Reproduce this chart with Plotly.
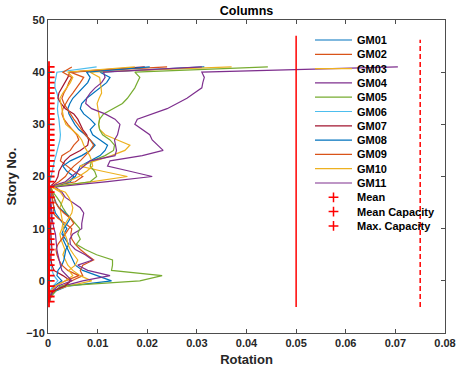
import plotly.graph_objects as go

# Story levels (floor numbers) shared by all records
stories = list(range(-4, 42))

# Column rotation per story for each ground-motion record
gm01 = [0.0003, 0.0006, 0.0015, 0.004, 0.0128, 0.010, 0.007, 0.0055, 0.005, 0.0045,
        0.004, 0.0035, 0.003, 0.0032, 0.0038, 0.003, 0.0022, 0.0015, 0.0012, 0.001,
        0.0008, 0.0006, 0.0005, 0.004, 0.0055, 0.006, 0.0065, 0.0085, 0.0105, 0.0115,
        0.012, 0.0105, 0.009, 0.0085, 0.0095, 0.0085, 0.0072, 0.0065, 0.0068, 0.0078,
        0.0092, 0.0105, 0.0118, 0.0125, 0.0105, 0.0315]
gm02 = [0.0002, 0.0005, 0.0012, 0.003, 0.0048, 0.007, 0.0065, 0.007, 0.0092, 0.0078,
        0.0065, 0.0055, 0.0048, 0.0046, 0.0048, 0.0035, 0.002, 0.001, 0.0012, 0.001,
        0.0008, 0.0006, 0.0004, 0.0055, 0.007, 0.0052, 0.0038, 0.0025, 0.0028, 0.0045,
        0.0052, 0.0062, 0.0058, 0.0048, 0.004, 0.0032, 0.0028, 0.003, 0.0036, 0.0042,
        0.005, 0.0058, 0.0065, 0.0072, 0.0045, 0.024]
gm03 = [0.0002, 0.0004, 0.001, 0.004, 0.0088, 0.0065, 0.005, 0.004, 0.0035, 0.003,
        0.0034, 0.003, 0.0026, 0.0024, 0.0028, 0.003, 0.0028, 0.0025, 0.0024, 0.0028,
        0.0032, 0.0025, 0.0008, 0.009, 0.016, 0.011, 0.0064, 0.0095, 0.0128, 0.0155,
        0.0165, 0.014, 0.0115, 0.0104, 0.0102, 0.0104, 0.0102, 0.010, 0.0099, 0.0103,
        0.0108, 0.0107, 0.0105, 0.0104, 0.0085, 0.037]
gm04 = [0.0003, 0.0005, 0.001, 0.003, 0.007, 0.0125, 0.008, 0.006, 0.009, 0.0075,
        0.0055, 0.0045, 0.0044, 0.005, 0.0068, 0.0068, 0.007, 0.0072, 0.0065, 0.005,
        0.0035, 0.0028, 0.0015, 0.012, 0.021, 0.0165, 0.012, 0.0125, 0.019, 0.0232,
        0.022, 0.021, 0.0205, 0.019, 0.0175, 0.018, 0.021, 0.024, 0.026, 0.028,
        0.0295, 0.031, 0.0312, 0.0315, 0.031, 0.0705]
gm05 = [0.0003, 0.0006, 0.0015, 0.0024, 0.0185, 0.023, 0.0128, 0.013, 0.013, 0.0098,
        0.0075, 0.0057, 0.0065, 0.006, 0.0064, 0.0055, 0.0045, 0.0037, 0.003, 0.0025,
        0.0018, 0.001, 0.0006, 0.0085, 0.0098, 0.0094, 0.0085, 0.0088, 0.0115, 0.0132,
        0.0134, 0.0125, 0.011, 0.0104, 0.0102, 0.0104, 0.0112, 0.013, 0.015, 0.016,
        0.0168, 0.0175, 0.018, 0.0185, 0.0175, 0.0443]
gm06 = [0.0001, 0.0002, 0.0004, 0.001, 0.002, 0.0012, 0.0008, 0.0006, 0.0005, 0.0005,
        0.0004, 0.0004, 0.0005, 0.0006, 0.0005, 0.0004, 0.0004, 0.0003, 0.0003, 0.0003,
        0.0003, 0.0003, 0.0002, 0.0004, 0.0006, 0.0008, 0.001, 0.0013, 0.0016, 0.0019,
        0.0022, 0.0024, 0.0025, 0.0024, 0.0024, 0.0022, 0.002, 0.0019, 0.002, 0.0021,
        0.0018, 0.0014, 0.0014, 0.0016, 0.0018, 0.0098]
gm07 = [0.0002, 0.0004, 0.001, 0.0035, 0.0045, 0.003, 0.0012, 0.0008, 0.0006, 0.0006,
        0.0008, 0.0007, 0.0006, 0.0005, 0.0005, 0.0006, 0.0007, 0.0006, 0.0005, 0.0004,
        0.0004, 0.0003, 0.0003, 0.0015, 0.002, 0.0022, 0.0028, 0.0034, 0.0045, 0.0065,
        0.008, 0.0082, 0.0078, 0.007, 0.0065, 0.006, 0.0052, 0.0035, 0.0026, 0.002,
        0.0022, 0.0028, 0.0035, 0.004, 0.0044, 0.0195]
gm08 = [0.0001, 0.0003, 0.0008, 0.0012, 0.0028, 0.0018, 0.002, 0.0028, 0.0032, 0.0034,
        0.0036, 0.0042, 0.0035, 0.0028, 0.0032, 0.0038, 0.0045, 0.0035, 0.0022, 0.0016,
        0.0012, 0.0008, 0.0004, 0.0045, 0.0052, 0.0038, 0.003, 0.0045, 0.0068, 0.0085,
        0.0095, 0.0085, 0.0075, 0.0062, 0.0054, 0.0048, 0.0042, 0.004, 0.0044, 0.005,
        0.006, 0.0072, 0.008, 0.0085, 0.0078, 0.0205]
gm09 = [0.0001, 0.0003, 0.0006, 0.0015, 0.0035, 0.0062, 0.004, 0.0028, 0.0022, 0.0018,
        0.0016, 0.002, 0.0028, 0.0035, 0.0042, 0.0052, 0.0045, 0.0032, 0.0022, 0.0015,
        0.0012, 0.0008, 0.0005, 0.0022, 0.0035, 0.0042, 0.0052, 0.0065, 0.0075, 0.0085,
        0.0092, 0.0085, 0.0075, 0.0068, 0.006, 0.0052, 0.0045, 0.0038, 0.0032, 0.0028,
        0.0032, 0.0038, 0.0042, 0.0048, 0.003, 0.0048]
gm10 = [0.0001, 0.0003, 0.0006, 0.0015, 0.0035, 0.005, 0.0042, 0.0055, 0.006, 0.0052,
        0.0045, 0.004, 0.0038, 0.0034, 0.003, 0.0035, 0.0042, 0.0048, 0.005, 0.0047,
        0.0042, 0.0035, 0.0006, 0.004, 0.0062, 0.0078, 0.009, 0.0088, 0.0084, 0.0078,
        0.0072, 0.0068, 0.006, 0.0048, 0.0036, 0.0032, 0.003, 0.0028, 0.0025, 0.0024,
        0.003, 0.0038, 0.0045, 0.005, 0.004, 0.0175]
gm11 = [0.0002, 0.0004, 0.0008, 0.002, 0.0048, 0.0038, 0.0028, 0.0025, 0.0022, 0.002,
        0.0018, 0.0017, 0.0016, 0.0015, 0.0012, 0.001, 0.0008, 0.0008, 0.0007, 0.0006,
        0.0005, 0.0004, 0.0003, 0.0035, 0.0048, 0.006, 0.0072, 0.0085, 0.0135, 0.0138,
        0.0136, 0.0134, 0.014, 0.0143, 0.0145, 0.0135, 0.0115, 0.0088, 0.0076, 0.0078,
        0.0085, 0.0095, 0.0108, 0.0115, 0.0112, 0.031]

# Mean rotation per story
mean_rot = [0.0002] * 46

# Capacity limits and the story span they are drawn over
cap_mean = 0.05
cap_mean_span = [-5, 47]
cap_max = 0.075
cap_max_span = [-5, 46.2]

names = ["GM01", "GM02", "GM03", "GM04", "GM05", "GM06", "GM07", "GM08", "GM09", "GM10", "GM11"]
records = [gm01, gm02, gm03, gm04, gm05, gm06, gm07, gm08, gm09, gm10, gm11]
colors = ["#0072BD", "#D95319", "#EDB120", "#7E2F8E", "#77AC30", "#4DBEEE", "#A2142F",
          "#0072BD", "#D95319", "#EDB120", "#7E2F8E"]

FONT = "Liberation Sans, Arial, sans-serif"
AXIS_GREY = "#4d4d4d"
TEXT = "#262626"

# plot-area geometry in pixels
W_PX, H_PX = 457, 376
L, R, T, B = 48, 445, 20, 333

fig = go.Figure()

for name, vals, col in zip(names, records, colors):
    fig.add_trace(go.Scatter(x=vals, y=stories, mode="lines", name=name,
                             line=dict(color=col, width=1.2), showlegend=False))

fig.add_trace(go.Scatter(x=mean_rot, y=stories, mode="markers", name="Mean",
                         marker=dict(symbol="cross-thin", size=8, color="red",
                                     line=dict(color="red", width=1.8)),
                         showlegend=False))
fig.add_trace(go.Scatter(x=[cap_mean, cap_mean], y=cap_mean_span, mode="lines",
                         name="Mean Capacity", line=dict(color="red", width=1.5),
                         showlegend=False))
fig.add_trace(go.Scatter(x=[cap_max, cap_max], y=cap_max_span, mode="lines",
                         name="Max. Capacity",
                         line=dict(color="red", width=1.5, dash="5px,3px"),
                         showlegend=False))

# ---- hand-built legend (compact row spacing) on an overlay [0,1] frame ----
def ux(px):
    return (px - L) / (R - L)

def vy(py):
    return (B - py) / (B - T)

row0, row_step = 40, 14.3
sample_x0, sample_x1, text_x = 315, 352, 355
legend_labels = names + ["Mean", "Mean Capacity", "Max. Capacity"]

for i, (name, col) in enumerate(zip(names, colors)):
    yy = vy(row0 + i * row_step)
    fig.add_trace(go.Scatter(x=[ux(sample_x0), ux(sample_x1)], y=[yy, yy], mode="lines",
                             line=dict(color=col, width=1.2), xaxis="x2", yaxis="y2",
                             showlegend=False, hoverinfo="skip"))

for j in range(3):
    yy = vy(row0 + (11 + j) * row_step)
    fig.add_trace(go.Scatter(x=[ux((sample_x0 + sample_x1) / 2)], y=[yy], mode="markers",
                             marker=dict(symbol="cross-thin", size=7, color="red",
                                         line=dict(color="red", width=1.5)),
                             xaxis="x2", yaxis="y2", showlegend=False, hoverinfo="skip"))

for i, lab in enumerate(legend_labels):
    fig.add_annotation(x=ux(text_x), y=vy(row0 + i * row_step), xref="x2", yref="y2",
                       text=lab, showarrow=False, xanchor="left", yanchor="middle",
                       font=dict(family=FONT, size=11, color="black", weight="bold"))

axis_common = dict(showline=True, linecolor=AXIS_GREY, linewidth=1, mirror="ticks",
                   ticks="inside", ticklen=4, tickcolor=AXIS_GREY, showgrid=False,
                   zeroline=False, automargin=False,
                   tickfont=dict(family=FONT, size=11, color=TEXT, weight="bold"))

fig.update_layout(
    width=W_PX, height=H_PX,
    margin=dict(l=L, r=W_PX - R, t=T, b=H_PX - B, pad=0, autoexpand=False),
    paper_bgcolor="white", plot_bgcolor="white",
    showlegend=False,
    title=dict(text="Columns", x=(L + R) / 2 / W_PX, xanchor="center",
               y=1 - 11 / H_PX, yanchor="middle", xref="container", yref="container",
               font=dict(family=FONT, size=12.5, color="black", weight="bold")),
    xaxis=dict(range=[0, 0.08], tick0=0, dtick=0.01,
               title=dict(text="Rotation", standoff=6,
                          font=dict(family=FONT, size=13, color=TEXT, weight="bold")),
               **axis_common),
    yaxis=dict(range=[-10, 50], tick0=-10, dtick=10,
               title=dict(text="Story No.", standoff=6,
                          font=dict(family=FONT, size=13, color=TEXT, weight="bold")),
               **axis_common),
    xaxis2=dict(overlaying="x", range=[0, 1], visible=False, anchor="y2"),
    yaxis2=dict(overlaying="y", range=[0, 1], visible=False, anchor="x2"),
)

fig.write_html("out.html")
